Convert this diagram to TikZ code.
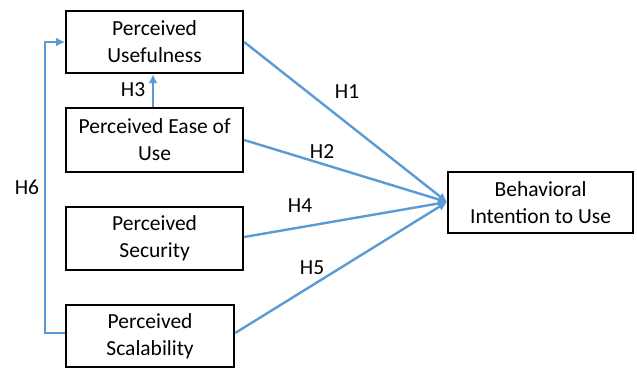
\documentclass[tikz,border=0pt]{standalone}
\usepackage{fontspec}
\setmainfont{Carlito}
\usetikzlibrary{arrows.meta}
\begin{document}
\begin{tikzpicture}[x=1pt,y=-1pt,
  box/.style={draw=black, line width=2.2pt, inner sep=0pt, align=center,
    font=\fontsize{21.5}{27}\selectfont, anchor=north west},
  link/.style={draw={rgb,255:red,91;green,155;blue,213}, line width=2.4pt,
    -{Latex[length=9pt,width=9pt]}},
  tag/.style={font=\fontsize{21.5}{24}\selectfont}]
\useasboundingbox (0,0) rectangle (637,368);
\node[box, minimum width=177pt, minimum height=62pt] (pu) at (65,10) {Perceived\\Usefulness};
\node[box, minimum width=177pt, minimum height=64pt] (peou) at (65,107) {Perceived Ease of\\Use};
\node[box, minimum width=177pt, minimum height=63pt] (ps) at (65,206) {Perceived\\Security};
\node[box, minimum width=168pt, minimum height=62pt] (psc) at (65,304) {Perceived\\Scalability};
\node[box, minimum width=185pt, minimum height=61pt] (bi) at (447,171) {Behavioral\\Intention to Use};
\coordinate (target) at (447,202);
\coordinate (bend1) at (45,333);
\coordinate (bend2) at (45,42);
\draw[link] (pu.east |- 0,42) -- (target);
\draw[link] (peou.east |- 0,140) -- (target);
\draw[link] (ps.east |- 0,237) -- (target);
\draw[link] (psc.east |- 0,333) -- (target);
\draw[link] (peou.north -| 153,0) -- (pu.south -| 153,0);
\draw[link] (psc.west |- bend1) -- (bend1) -- (bend2) -- (pu.west |- bend2);
\node[tag] (h1) at (347,92) {H1};
\node[tag] (h2) at (322,152) {H2};
\node[tag] (h3) at (133,90) {H3};
\node[tag] (h4) at (300,206) {H4};
\node[tag] (h5) at (312,268) {H5};
\node[tag] (h6) at (27,187) {H6};
\end{tikzpicture}
\end{document}
